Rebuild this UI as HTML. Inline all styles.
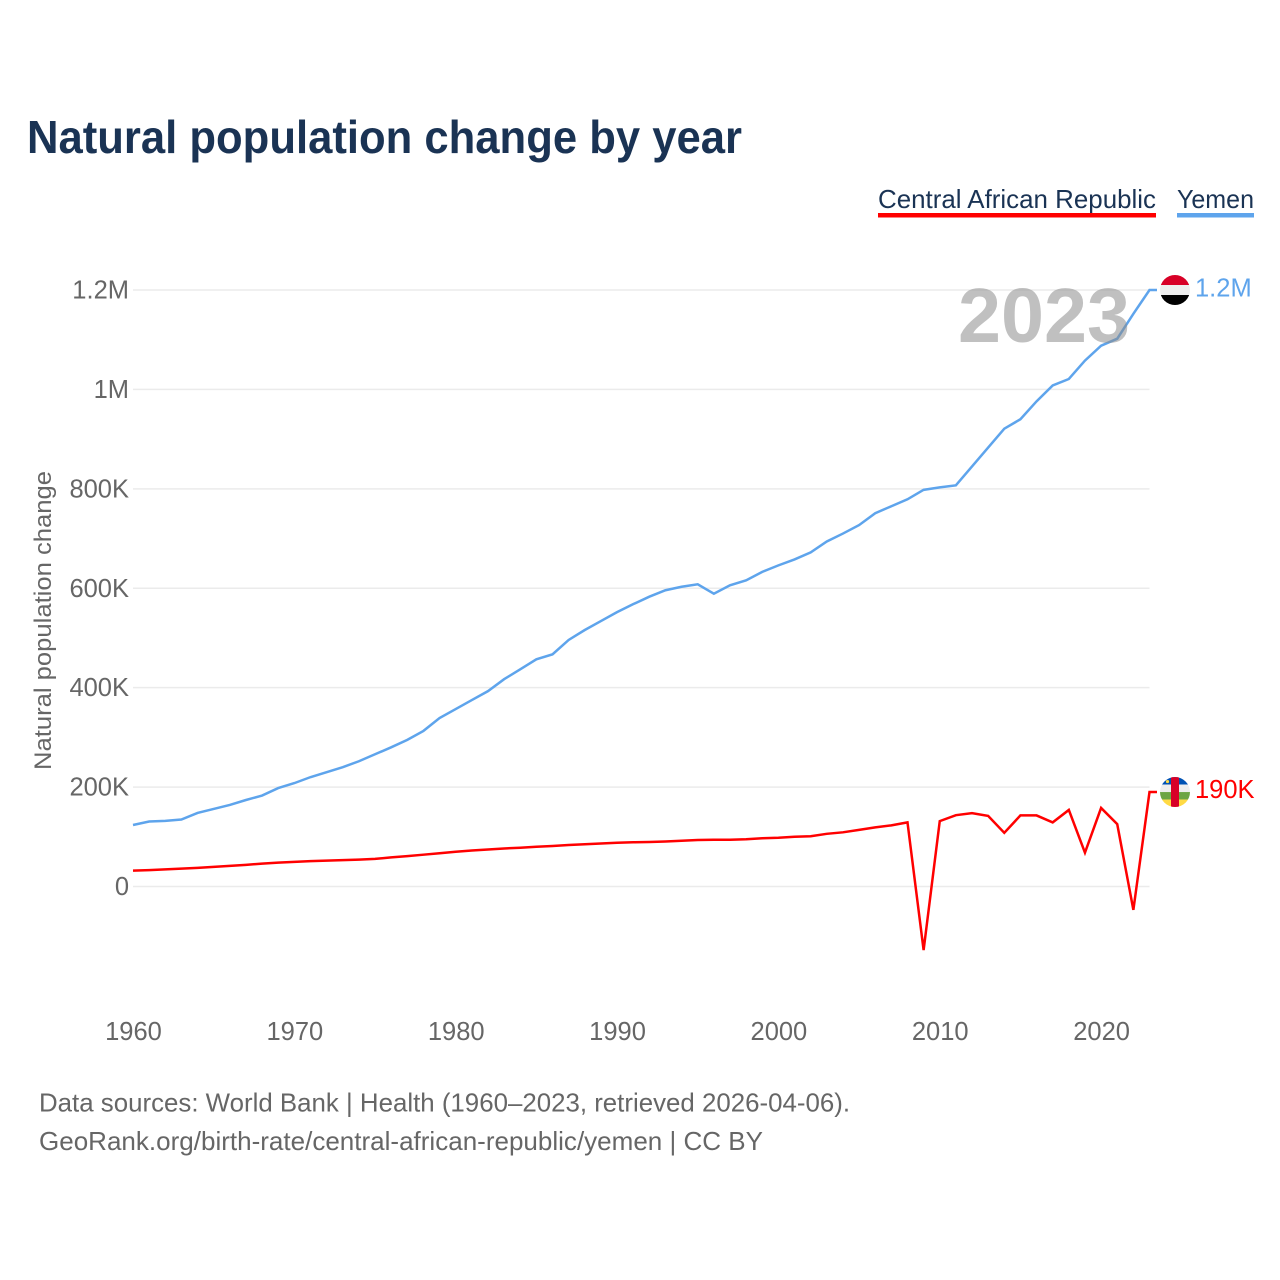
<!DOCTYPE html>
<html lang="en">
<head>
<meta charset="utf-8">
<title>Natural population change by year</title>
<style>
  html, body { margin: 0; padding: 0; background: #fff; }
  svg { display: block; font-family: "Liberation Sans", sans-serif; }
</style>
</head>
<body>
<svg id="chart" width="1280" height="1280" viewBox="0 0 1280 1280" xmlns="http://www.w3.org/2000/svg">
  <defs>
    <clipPath id="flag-clip"><circle cx="0" cy="0" r="15"></circle></clipPath>
  </defs>
  <rect width="1280" height="1280" fill="#fff"></rect>
  <text x="27" y="153" font-size="46" font-weight="700" fill="#1a3354" textLength="715" lengthAdjust="spacingAndGlyphs">Natural population change by year</text>

  <g>
    <text x="878" y="208" font-size="26" fill="#1a3354" textLength="278" lengthAdjust="spacingAndGlyphs">Central African Republic</text>
    <rect x="878" y="213" width="278" height="4.5" fill="#ff0000"></rect>
    <text x="1177" y="208" font-size="26" fill="#1a3354" textLength="77" lengthAdjust="spacingAndGlyphs">Yemen</text>
    <rect x="1177" y="213" width="77" height="4.5" fill="#5ea4ec"></rect>
  </g>

  <text transform="translate(51 620.5) rotate(-90)" text-anchor="middle" font-size="24" fill="#666" textLength="299" lengthAdjust="spacingAndGlyphs">Natural population change</text>

  <g id="grid"></g>
  <g id="y-ticks"></g>
  <g id="x-ticks"></g>
  <g id="series"></g>

  <text x="958" y="342" font-size="77" font-weight="700" fill="#8c8c8c" fill-opacity="0.55" textLength="172" lengthAdjust="spacingAndGlyphs">2023</text>

  <g id="flag-yemen">
    <g clip-path="url(#flag-clip)">
      <rect x="-15" y="-15" width="30" height="10" fill="#d80027"></rect>
      <rect x="-15" y="-5" width="30" height="10" fill="#eeeeee"></rect>
      <rect x="-15" y="5" width="30" height="10" fill="#000000"></rect>
    </g>
  </g>
  <g id="flag-car">
    <g clip-path="url(#flag-clip)">
      <rect x="-15" y="-15" width="30" height="7.5" fill="#0052b4"></rect>
      <rect x="-15" y="-7.5" width="30" height="7.5" fill="#eeeeee"></rect>
      <rect x="-15" y="0" width="30" height="7.5" fill="#6da544"></rect>
      <rect x="-15" y="7.5" width="30" height="7.5" fill="#ffda44"></rect>
      <rect x="-4" y="-15" width="8" height="30" fill="#d80027"></rect>
      <circle cx="-7.5" cy="-10.5" r="1.6" fill="#ffda44"></circle>
    </g>
  </g>

  <text id="value-yemen" x="1195" font-size="25.5" fill="#5ea4ec">1.2M</text>
  <text id="value-car" x="1195" font-size="25.5" fill="#ff0000">190K</text>

  <g>
    <text x="39" y="1111.5" font-size="26" fill="#666" textLength="811" lengthAdjust="spacingAndGlyphs">Data sources: World Bank | Health (1960–2023, retrieved 2026-04-06).</text>
    <text x="39" y="1150" font-size="26" fill="#666" textLength="724" lengthAdjust="spacingAndGlyphs">GeoRank.org/birth-rate/central-african-republic/yemen | CC BY</text>
  </g>

<script>
var years = [1960,1961,1962,1963,1964,1965,1966,1967,1968,1969,1970,1971,1972,1973,1974,1975,1976,1977,1978,1979,1980,1981,1982,1983,1984,1985,1986,1987,1988,1989,1990,1991,1992,1993,1994,1995,1996,1997,1998,1999,2000,2001,2002,2003,2004,2005,2006,2007,2008,2009,2010,2011,2012,2013,2014,2015,2016,2017,2018,2019,2020,2021,2022,2023];
var yemenValues = [123700,130800,132000,134800,148000,156000,164000,174000,183000,198000,208000,220000,230000,240000,252000,266000,280000,295000,313000,339000,357000,375000,393000,417000,437000,457000,467000,496000,516000,534000,552000,568000,583000,596000,603000,608000,589000,606000,616000,633000,646000,658000,672000,694000,710000,727000,751000,765000,779000,798000,803000,807000,845000,883000,921000,940000,976000,1008000,1021000,1058000,1088000,1102000,1152000,1200000];
var carValues = [32000,33000,34500,36000,37500,39500,41500,43500,46000,48000,49500,51000,52000,53000,54000,55500,58500,61000,64000,67000,70000,72500,74500,76500,78000,80000,81500,83500,85000,86500,88000,89000,89500,90500,92000,93500,94000,94000,95000,97000,98000,100000,101000,106000,109000,114000,119000,123000,129000,-128000,131500,143500,147500,142000,108000,143000,143000,129000,154000,68000,158000,125500,-47000,190000];
var yTickValues = [0,200000,400000,600000,800000,1000000,1200000];
var yTickLabels = ['0','200K','400K','600K','800K','1M','1.2M'];
var xTickYears = [1960,1970,1980,1990,2000,2010,2020];

var SVG_NS = 'http://www.w3.org/2000/svg';
var plotLeft = 133, plotRight = 1149.5, tailEnd = 1157;
var y0 = 886.5, yTop = 290, yMaxValue = 1200000;

function xScale(year) {
  return plotLeft + (year - years[0]) * (plotRight - plotLeft) / (years[years.length - 1] - years[0]);
}
function yScale(value) {
  return y0 - value * (y0 - yTop) / yMaxValue;
}
function make(tag, attrs, parent) {
  var el = document.createElementNS(SVG_NS, tag);
  for (var k in attrs) el.setAttribute(k, attrs[k]);
  parent.appendChild(el);
  return el;
}

var grid = document.getElementById('grid');
var yTicksGroup = document.getElementById('y-ticks');
var xTicksGroup = document.getElementById('x-ticks');
var seriesGroup = document.getElementById('series');

yTickValues.forEach(function (value, i) {
  var y = yScale(value);
  var line = make('line', { x1: plotLeft, x2: plotRight, y1: y, y2: y, stroke: '#ebebeb', 'stroke-width': 1.5 }, grid);
  
  
  var label = make('text', { x: 129, y: y + 8.5, 'text-anchor': 'end', 'font-size': 25.5, fill: '#666' }, yTicksGroup);
  
  
  label.textContent = yTickLabels[i];
});

xTickYears.forEach(function (year) {
  var label = make('text', { x: xScale(year) + 0.5, y: 1040, 'text-anchor': 'middle', 'font-size': 25.5, fill: '#666' }, xTicksGroup);
  
  
  label.textContent = year;
});

function linePoints(values) {
  var pts = values.map(function (v, i) {
    return xScale(years[i]).toFixed(2) + ',' + yScale(v).toFixed(2);
  });
  pts.push(tailEnd + ',' + yScale(values[values.length - 1]).toFixed(2));
  return pts.join(' ');
}

var yemenLine = make('polyline', { points: linePoints(yemenValues), fill: 'none', stroke: '#5ea4ec', 'stroke-width': 2.5, 'stroke-linejoin': 'miter' }, seriesGroup);



var carLine = make('polyline', { points: linePoints(carValues), fill: 'none', stroke: '#ff0000', 'stroke-width': 2.5, 'stroke-linejoin': 'miter' }, seriesGroup);



var yemenEnd = yScale(yemenValues[yemenValues.length - 1]);
var carEnd = yScale(carValues[carValues.length - 1]);
document.getElementById('flag-yemen').setAttribute('transform', 'translate(1175 ' + yemenEnd + ')');
document.getElementById('flag-car').setAttribute('transform', 'translate(1175 ' + carEnd + ')');
document.getElementById('value-yemen').setAttribute('y', yemenEnd + 6.5);
document.getElementById('value-car').setAttribute('y', carEnd + 6);
</script>
</svg>
</body>
</html>
